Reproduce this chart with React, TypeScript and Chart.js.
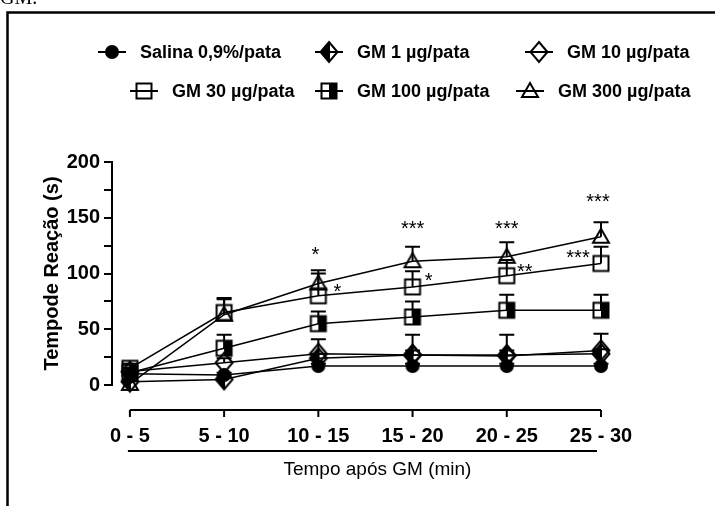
import React, { useEffect, useRef } from 'react';
import { Chart, registerables } from 'chart.js';

Chart.register(...registerables);

// ---------------- data ----------------
const categories = ['0 - 5', '5 - 10', '10 - 15', '15 - 20', '20 - 25', '25 - 30'];

const seriesNames = [
  'Salina 0,9%/pata',
  'GM 1 µg/pata',
  'GM 10 µg/pata',
  'GM 30 µg/pata',
  'GM 100 µg/pata',
  'GM 300 µg/pata',
];

const salina = [10, 9, 17, 17, 17, 17];
const salinaErr = [2, 2, 2, 2, 2, 2];
const gm1 = [3, 5, 24, 27, 27, 28];
const gm1Err = [2, 3, 4, 4, 4, 4];
const gm10 = [12, 20, 28, 27, 26, 31];
const gm10Err = [3, 4, 13, 18, 19, 15];
const gm30 = [15, 65, 80, 88, 98, 109];
const gm30Err = [4, 13, 20, 14, 14, 15];
const gm100 = [11, 33, 55, 61, 67, 67];
const gm100Err = [4, 12, 11, 14, 14, 14];
const gm300 = [1, 63, 91, 111, 115, 133];
const gm300Err = [3, 14, 12, 13, 13, 13];

const yTicks = [0, 50, 100, 150, 200];

// significance marks: category index, value position, text, horizontal pixel shift
const annCat = [2, 2, 3, 3, 4, 4, 5, 5];
const annVal = [121, 88, 144, 98, 144, 106, 169, 118];
const annText = ['*', '*', '***', '*', '***', '**', '***', '***'];
const annShift = [-3, 19, 0, 16, 0, 18, -3, -23];

const markerKinds = ['circle', 'diamondHalf', 'diamond', 'square', 'squareHalf', 'triangle'];

const FONT = 'Arial, "Liberation Sans", Helvetica, sans-serif';

function makeMarker(kind: string): HTMLCanvasElement {
  const c = document.createElement('canvas');
  const S = 24;
  c.width = S;
  c.height = S;
  const g = c.getContext('2d') as CanvasRenderingContext2D;
  const m = S / 2;
  g.lineWidth = 2;
  g.strokeStyle = '#000';
  g.fillStyle = '#000';
  if (kind === 'circle') {
    g.beginPath();
    g.arc(m, m, 7, 0, Math.PI * 2);
    g.fill();
  } else if (kind === 'diamondHalf' || kind === 'diamond') {
    const w = 8.5, h = 10;
    if (kind === 'diamondHalf') {
      g.beginPath();
      g.moveTo(m, m - h);
      g.lineTo(m, m + h);
      g.lineTo(m - w, m);
      g.closePath();
      g.fill();
      g.beginPath();
      g.moveTo(m, m - h);
      g.lineTo(m, m + h);
      g.stroke();
    }
    g.beginPath();
    g.moveTo(m, m - h);
    g.lineTo(m + w, m);
    g.lineTo(m, m + h);
    g.lineTo(m - w, m);
    g.closePath();
    g.stroke();
  } else if (kind === 'square' || kind === 'squareHalf') {
    if (kind === 'squareHalf') g.fillRect(m, m - 7.5, 7.5, 15);
    g.strokeRect(m - 7.5, m - 7.5, 15, 15);
  } else if (kind === 'triangle') {
    g.beginPath();
    g.moveTo(m, m - 8);
    g.lineTo(m + 8, m + 6);
    g.lineTo(m - 8, m + 6);
    g.closePath();
    g.stroke();
  }
  return c;
}

export default function App() {
  const ref = useRef<HTMLCanvasElement | null>(null);

  useEffect(() => {
    const canvas = ref.current;
    if (!canvas) return;
    const values = [salina, gm1, gm10, gm30, gm100, gm300];
    const errors = [salinaErr, gm1Err, gm10Err, gm30Err, gm100Err, gm300Err];
    const sprites = markerKinds.map((k) => makeMarker(k));

    const decor = {
      id: 'decor',
      beforeDatasetsDraw(chart: any) {
        const ctx = chart.ctx as CanvasRenderingContext2D;
        const xs = chart.scales.x;
        const ys = chart.scales.y;
        ctx.save();
        ctx.strokeStyle = '#000';
        ctx.lineWidth = 2;
        errors.forEach((errs, d) => {
          errs.forEach((e, i) => {
            if (!e) return;
            const x = xs.getPixelForValue(i);
            const y0 = ys.getPixelForValue(values[d][i]);
            const y1 = ys.getPixelForValue(values[d][i] + e);
            ctx.beginPath();
            ctx.moveTo(x, y0);
            ctx.lineTo(x, y1);
            ctx.moveTo(x - 7.5, y1);
            ctx.lineTo(x + 7.5, y1);
            ctx.stroke();
          });
        });
        ctx.restore();
      },
      afterDraw(chart: any) {
        const ctx = chart.ctx as CanvasRenderingContext2D;
        const xs = chart.scales.x;
        const ys = chart.scales.y;
        const area = chart.chartArea;
        ctx.save();
        // frame
        ctx.strokeStyle = '#000';
        ctx.lineWidth = 2.5;
        ctx.beginPath();
        ctx.moveTo(7.5, 506);
        ctx.lineTo(7.5, 12.5);
        ctx.lineTo(715, 12.5);
        ctx.stroke();
        // cut-off caption above the frame
        ctx.fillStyle = '#000';
        ctx.font = '20px "Liberation Serif", "Times New Roman", serif';
        ctx.textAlign = 'left';
        ctx.textBaseline = 'alphabetic';
        ctx.fillText('GM.', 0, 4);

        // detached x axis
        const x0 = xs.getPixelForValue(0);
        const x5 = xs.getPixelForValue(categories.length - 1);
        const axY = area.bottom + 25;
        ctx.lineWidth = 2;
        ctx.beginPath();
        ctx.moveTo(x0, axY);
        ctx.lineTo(x5, axY);
        ctx.stroke();
        categories.forEach((_, i) => {
          const x = xs.getPixelForValue(i);
          ctx.beginPath();
          ctx.moveTo(x, axY);
          ctx.lineTo(x, axY + 7);
          ctx.stroke();
        });
        // underline and x title
        ctx.beginPath();
        ctx.moveTo(x0 - 2, area.bottom + 66);
        ctx.lineTo(x5 - 4, area.bottom + 66);
        ctx.stroke();
        ctx.font = `19px ${FONT}`;
        ctx.textAlign = 'center';
        ctx.textBaseline = 'middle';
        ctx.fillText('Tempo após GM (min)', (x0 + x5) / 2 + 12, area.bottom + 85);

        // significance marks
        ctx.font = `20px ${FONT}`;
        ctx.textBaseline = 'alphabetic';
        annText.forEach((t, k) => {
          const x = xs.getPixelForValue(annCat[k]) + annShift[k];
          const y = ys.getPixelForValue(annVal[k]) + 11;
          ctx.fillText(t, x, y);
        });

        // legend
        const legendPos = [
          [112, 52], [329, 52], [539, 52],
          [144, 91], [329, 91], [530, 91],
        ];
        ctx.font = `bold 18px ${FONT}`;
        ctx.textAlign = 'left';
        ctx.textBaseline = 'middle';
        ctx.lineWidth = 2;
        seriesNames.forEach((name, i) => {
          const [cx, cy] = legendPos[i];
          ctx.beginPath();
          ctx.moveTo(cx - 14, cy);
          ctx.lineTo(cx + 14, cy);
          ctx.stroke();
          const sp = sprites[i];
          ctx.drawImage(sp, cx - sp.width / 2, cy - sp.height / 2);
          ctx.fillText(name, cx + 28, cy + 1);
        });
        ctx.restore();
      },
    };

    const chart = new Chart(canvas, {
      type: 'line',
      data: {
        datasets: values.map((vals, d) => ({
          label: seriesNames[d],
          data: vals.map((v, i) => ({ x: i, y: v })),
          borderColor: '#000',
          backgroundColor: '#000',
          borderWidth: 1.5,
          pointStyle: sprites[d] as any,
          pointRadius: 8,
          tension: 0,
          clip: false as any,
        })),
      },
      options: {
        responsive: false,
        animation: false,
        devicePixelRatio: 1,
        layout: { padding: { top: 162, right: 114, left: 0, bottom: 0 } },
        plugins: {
          legend: { display: false },
          tooltip: { enabled: false },
        },
        scales: {
          x: {
            type: 'linear',
            min: -0.19,
            max: categories.length - 1,
            afterBuildTicks: (s: any) => {
              s.ticks = categories.map((_, i) => ({ value: i }));
            },
            afterFit: (s: any) => {
              s.height = 121;
            },
            ticks: {
              autoSkip: false,
              maxRotation: 0,
              padding: 39,
              color: '#000',
              font: { family: FONT, weight: 'bold', size: 20 },
              callback: (v: any) => categories[v as number] ?? '',
            },
            grid: { display: false, drawTicks: false },
            border: { display: false },
          },
          y: {
            min: 0,
            max: 200,
            afterBuildTicks: (s: any) => {
              const t: any[] = [];
              for (let i = 0; i < yTicks.length; i++) {
                t.push({ value: yTicks[i] });
                if (i < yTicks.length - 1) t.push({ value: (yTicks[i] + yTicks[i + 1]) / 2 });
              }
              s.ticks = t;
            },
            afterFit: (s: any) => {
              s.width = 112;
            },
            ticks: {
              padding: 4,
              color: '#000',
              font: { family: FONT, weight: 'bold', size: 20 },
              callback: (v: any) => (yTicks.includes(v as number) ? String(v) : ''),
            },
            grid: {
              display: true,
              drawOnChartArea: false,
              drawTicks: true,
              tickLength: 8,
              color: '#000',
              lineWidth: 2,
            },
            border: { display: true, color: '#000', width: 2 },
            title: {
              display: true,
              text: 'Tempode Reação (s)',
              color: '#000',
              font: { family: FONT, weight: 'bold', size: 20 },
              padding: { top: 40, bottom: 0 },
            },
          },
        },
      },
      plugins: [decor],
    } as any);

    return () => chart.destroy();
  }, []);

  return (
    <div style={{ position: 'absolute', left: 0, top: 0, width: 715, height: 506, background: '#fff' }}>
      <canvas ref={ref} width={715} height={506} style={{ width: 715, height: 506, display: 'block' }} />
    </div>
  );
}
